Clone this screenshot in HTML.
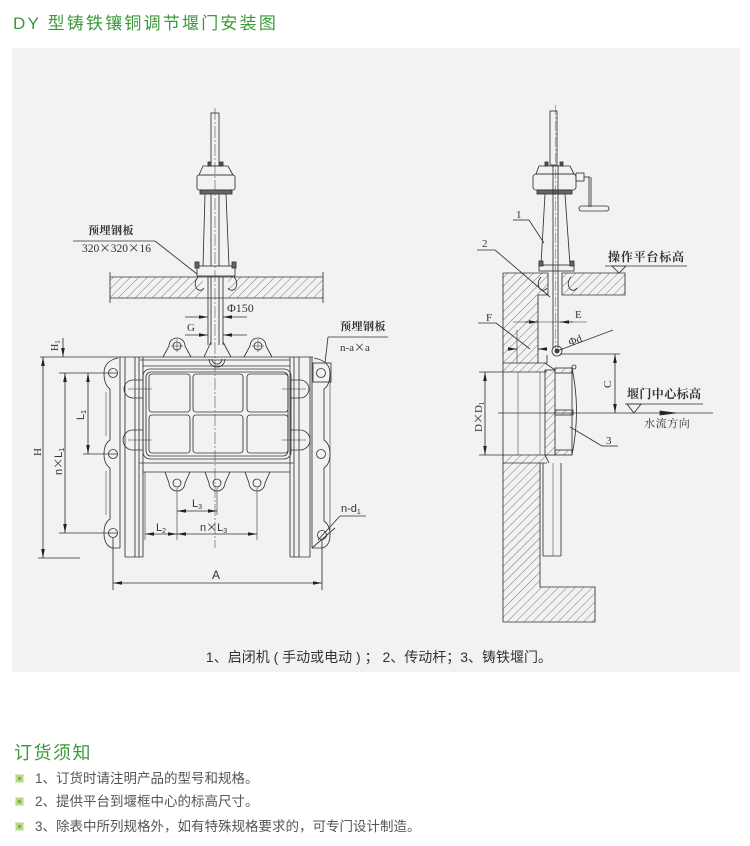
<!DOCTYPE html>
<html><head><meta charset="utf-8">
<style>
html,body{margin:0;padding:0;background:#fff;}
body{width:750px;height:846px;position:relative;overflow:hidden;}
svg{position:absolute;left:0;top:0;}
</style></head><body>
<svg width="750" height="846" viewBox="0 0 750 846" xmlns="http://www.w3.org/2000/svg">
<defs>
<pattern id="h" width="6" height="6" patternUnits="userSpaceOnUse" patternTransform="rotate(45)"><line x1="0" y1="0" x2="0" y2="6" stroke="#444" stroke-width="0.7"/></pattern>
<marker id="ar" viewBox="0 0 10 4" markerWidth="9" markerHeight="4" refX="10" refY="2" orient="auto-start-reverse" markerUnits="userSpaceOnUse"><path d="M0,0L10,2L0,4z" fill="#222"/></marker>
</defs>

<text x="13" y="29" font-family="Liberation Sans, Noto Sans CJK SC, sans-serif" font-size="17" fill="#3a9a3a" letter-spacing="2.2">DY 型铸铁镶铜调节堰门安装图</text>

<rect x="12" y="48" width="728" height="624" fill="#f2f2f2"/>

<!-- ============ LEFT DRAWING ============ -->
<g stroke="#333" stroke-width="0.85" fill="none">
  <rect x="211" y="113" width="8" height="53"/>
  <line x1="215" y1="108" x2="215" y2="548" stroke-width="0.5" stroke-dasharray="12 2 2 2"/>
  <rect x="208" y="162" width="3" height="4" fill="#555"/>
  <rect x="220" y="162" width="3" height="4" fill="#555"/>
  <path d="M199,175 L203,166 L228,166 L233,175 Z"/>
  <rect x="197" y="175" width="38" height="15" rx="2"/>
  <rect x="200" y="190" width="32" height="4" fill="#666"/>
  <line x1="205" y1="194" x2="203" y2="266"/>
  <line x1="226" y1="194" x2="229" y2="266"/>
  <line x1="211" y1="194" x2="211" y2="266"/>
  <line x1="219" y1="194" x2="219" y2="266"/>
  <rect x="197" y="266" width="38" height="10"/>
  <rect x="195" y="262" width="4" height="6" fill="#666"/>
  <rect x="232" y="262" width="4" height="6" fill="#666"/>
  <rect x="110" y="277" width="93" height="21" fill="url(#h)" stroke="none"/>
  <rect x="228" y="277" width="95" height="21" fill="url(#h)" stroke="none"/>
  <line x1="110" y1="277" x2="323" y2="277"/>
  <line x1="110" y1="298" x2="323" y2="298"/>
  <line x1="110" y1="272" x2="110" y2="303"/>
  <line x1="323" y1="272" x2="323" y2="303"/>
  <path d="M198,277 q-5,6 -1,12 q4,3 7,-1"/>
  <path d="M234,277 q5,6 1,12 q-4,3 -7,-1"/>
  <line x1="208" y1="277" x2="208" y2="345"/>
  <line x1="223" y1="277" x2="223" y2="345"/>
  <line x1="211" y1="276" x2="211" y2="345"/>
  <line x1="219" y1="276" x2="219" y2="345"/>
  <line x1="73" y1="241" x2="155" y2="241"/>
  <line x1="155" y1="241" x2="197" y2="274"/>
  <line x1="185" y1="317" x2="208" y2="317" marker-end="url(#ar)"/>
  <line x1="247" y1="317" x2="223" y2="317" marker-end="url(#ar)"/>
  <line x1="185" y1="335" x2="208" y2="335" marker-end="url(#ar)"/>
  <line x1="247" y1="335" x2="223" y2="335" marker-end="url(#ar)"/>

  <line x1="40" y1="357" x2="313" y2="357"/>
  <line x1="140" y1="360" x2="290" y2="360"/>
  <line x1="143" y1="366" x2="290" y2="366"/>
  <path d="M163,357 L169,346 A8,8 0 0 1 185,346 L191,357"/>
  <circle cx="177" cy="346" r="4"/>
  <line x1="171" y1="346" x2="183" y2="346" stroke-width="0.5"/><line x1="177" y1="339" x2="177" y2="352" stroke-width="0.5"/>
  <path d="M244,357 L250,346 A8,8 0 0 1 266,346 L272,357"/>
  <circle cx="258" cy="346" r="4"/>
  <line x1="252" y1="346" x2="264" y2="346" stroke-width="0.5"/><line x1="258" y1="339" x2="258" y2="352" stroke-width="0.5"/>
  <path d="M204,357 L211,342 M223,342 L231,357"/>
  <path d="M209,359 A8,8 0 0 0 225,359"/>
  <path d="M212,359 A5,5 0 0 0 222,359"/>

  <line x1="125" y1="357" x2="125" y2="557"/>
  <line x1="135" y1="357" x2="135" y2="557"/>
  <line x1="139" y1="357" x2="139" y2="557"/>
  <line x1="143" y1="357" x2="143" y2="557"/>
  <line x1="125" y1="557" x2="143" y2="557"/>
  <line x1="290" y1="357" x2="290" y2="557"/>
  <line x1="294" y1="357" x2="294" y2="557"/>
  <line x1="299" y1="357" x2="299" y2="557"/>
  <line x1="310" y1="357" x2="310" y2="557"/>
  <line x1="290" y1="557" x2="310" y2="557"/>

  <line x1="120" y1="357" x2="120" y2="548"/>
  <path d="M118,358 Q104,361 104,373 Q104,385 110,389 L110,440 Q104,444 104,454 Q104,464 110,468 L110,519 Q104,523 104,533 Q104,545 112,548 L120,548"/>
  <line x1="106" y1="392" x2="106" y2="436" stroke-width="0.5"/>
  <line x1="106" y1="471" x2="106" y2="515" stroke-width="0.5"/>
  <circle cx="113" cy="373" r="4.5"/><circle cx="113" cy="454" r="4.5"/><circle cx="113" cy="533" r="4.5"/>
  <line x1="113" y1="538" x2="113" y2="590"/>
  <line x1="312" y1="357" x2="312" y2="548"/>
  <path d="M314,358 Q330,361 330,373 Q330,385 324,389 L324,440 Q330,444 330,454 Q330,464 324,468 L324,521 Q330,525 330,535 Q330,546 322,548 L312,548"/>
  <line x1="330" y1="373" x2="330" y2="530" stroke-width="0.6"/>
  <rect x="313" y="363" width="18" height="19"/>
  <circle cx="321" cy="373" r="4.5"/><circle cx="321" cy="454" r="4.5"/><circle cx="322" cy="535" r="4.5"/>
  <line x1="322" y1="540" x2="322" y2="590"/>
  <line x1="312" y1="548" x2="335" y2="528"/>

  <rect x="143" y="369" width="148" height="90" rx="7"/>
  <rect x="146" y="372" width="142" height="84" rx="5"/>
  <rect x="149" y="374" width="41" height="38" rx="3"/>
  <rect x="193" y="374" width="50" height="38" rx="3"/>
  <rect x="247" y="374" width="41" height="38" rx="3"/>
  <rect x="149" y="415" width="41" height="38" rx="3"/>
  <rect x="193" y="415" width="50" height="38" rx="3"/>
  <rect x="247" y="415" width="41" height="38" rx="3"/>
  <path d="M143,380 L133,380 A9,9 0 0 0 133,398 L143,398"/>
  <path d="M143,430 L133,430 A10,10 0 0 0 133,450 L143,450"/>
  <path d="M290,380 L300,380 A9,9 0 0 1 300,398 L290,398"/>
  <path d="M290,430 L300,430 A10,10 0 0 1 300,450 L290,450"/>
  <line x1="128" y1="389" x2="152" y2="389" stroke-width="0.6"/>
  <line x1="128" y1="440" x2="152" y2="440" stroke-width="0.6"/>
  <line x1="282" y1="389" x2="306" y2="389" stroke-width="0.6"/>
  <line x1="282" y1="440" x2="306" y2="440" stroke-width="0.6"/>
  <line x1="139" y1="463" x2="294" y2="463"/>
  <line x1="143" y1="472" x2="290" y2="472"/>
  <path d="M165,472 L169,483 A8,8 0 0 0 185,483 L190,472"/>
  <circle cx="177" cy="483" r="4"/>
  <path d="M205,472 L209,483 A8,8 0 0 0 225,483 L230,472"/>
  <circle cx="217" cy="483" r="4"/>
  <path d="M245,472 L249,483 A8,8 0 0 0 265,483 L270,472"/>
  <circle cx="257" cy="483" r="4"/>

  <line x1="43" y1="357" x2="43" y2="558" marker-start="url(#ar)" marker-end="url(#ar)"/>
  <line x1="38" y1="558" x2="80" y2="558"/>
  <line x1="63" y1="338" x2="63" y2="357" marker-end="url(#ar)"/>
  <line x1="65" y1="373" x2="65" y2="533" marker-start="url(#ar)" marker-end="url(#ar)"/>
  <line x1="59" y1="373" x2="118" y2="373"/>
  <line x1="59" y1="533" x2="118" y2="533"/>
  <line x1="88" y1="373" x2="88" y2="454" marker-start="url(#ar)" marker-end="url(#ar)"/>
  <line x1="83" y1="454" x2="118" y2="454"/>
  <line x1="177" y1="488" x2="177" y2="540" stroke-width="0.6"/>
  <line x1="217" y1="488" x2="217" y2="515" stroke-width="0.6"/>
  <line x1="257" y1="488" x2="257" y2="540" stroke-width="0.6"/>
  <line x1="145" y1="472" x2="145" y2="540" stroke-width="0.6"/>
  <line x1="177" y1="511" x2="217" y2="511" marker-start="url(#ar)" marker-end="url(#ar)"/>
  <line x1="145" y1="534" x2="177" y2="534" marker-start="url(#ar)" marker-end="url(#ar)"/>
  <line x1="177" y1="534" x2="257" y2="534" marker-start="url(#ar)" marker-end="url(#ar)"/>
  <line x1="113" y1="583" x2="322" y2="583" marker-start="url(#ar)" marker-end="url(#ar)"/>
  <line x1="328" y1="337" x2="388" y2="337"/>
  <line x1="328" y1="337" x2="325" y2="363"/>
  <line x1="340" y1="516" x2="366" y2="516"/>
  <line x1="340" y1="516" x2="318" y2="540"/>
</g>

<g font-family="Liberation Serif, Noto Serif CJK SC, serif" fill="#333">
  <text x="88" y="234" font-size="11" font-weight="bold" letter-spacing="0.5">预埋钢板</text>
  <text x="82" y="252" font-size="11.5">320<tspan font-family="Noto Sans CJK SC, sans-serif">×</tspan>320<tspan font-family="Noto Sans CJK SC, sans-serif">×</tspan>16</text>
  <text x="227" y="312" font-size="12">Φ150</text>
  <text x="187" y="331" font-size="11">G</text>
  <text x="340" y="330" font-size="11" font-weight="bold" letter-spacing="0.5">预埋钢板</text>
  <text x="340" y="351" font-size="11">n-a<tspan font-family="Noto Sans CJK SC, sans-serif">×</tspan>a</text>
  <text x="341" y="512" font-family="Liberation Sans, sans-serif" font-size="11">n-d<tspan font-size="7" dy="2">1</tspan></text>
  <text x="0" y="0" font-size="11" transform="translate(41,456) rotate(-90)">H</text>
  <text x="0" y="0" font-size="10" transform="translate(58,351) rotate(-90)">H<tspan font-size="7" dy="2">1</tspan></text>
  <text x="0" y="0" font-family="Liberation Sans, sans-serif" font-size="11" transform="translate(62,475) rotate(-90)">n<tspan font-family="Noto Sans CJK SC, sans-serif">×</tspan>L<tspan font-size="7" dy="2">1</tspan></text>
  <text x="0" y="0" font-family="Liberation Sans, sans-serif" font-size="11" transform="translate(84,420) rotate(-90)">L<tspan font-size="7" dy="2">1</tspan></text>
  <text x="192" y="507" font-family="Liberation Sans, sans-serif" font-size="11">L<tspan font-size="7" dy="2">3</tspan></text>
  <text x="156" y="531" font-family="Liberation Sans, sans-serif" font-size="11">L<tspan font-size="7" dy="2">2</tspan></text>
  <text x="200" y="531" font-family="Liberation Sans, sans-serif" font-size="11">n<tspan font-family="Noto Sans CJK SC, sans-serif">×</tspan>L<tspan font-size="7" dy="2">3</tspan></text>
  <text x="212" y="579" font-family="Liberation Sans, sans-serif" font-size="12">A</text>
</g>

<!-- ============ RIGHT DRAWING ============ -->
<g stroke="#333" stroke-width="0.85" fill="none">
  <rect x="550" y="111" width="7" height="54"/>
  <rect x="545" y="162" width="3" height="4" fill="#555"/>
  <rect x="560" y="162" width="3" height="4" fill="#555"/>
  <path d="M536,174 L539,166 L570,166 L574,174 Z"/>
  <rect x="533" y="174" width="43" height="16" rx="3"/>
  <rect x="537" y="190" width="35" height="4" fill="#666"/>
  <rect x="576" y="173" width="8" height="8"/>
  <line x1="584" y1="177" x2="590" y2="177"/>
  <line x1="589" y1="177" x2="589" y2="207"/>
  <line x1="591" y1="177" x2="591" y2="207"/>
  <rect x="579" y="206" width="30" height="5" rx="2.5"/>
  <line x1="545" y1="194" x2="541" y2="265"/>
  <line x1="565" y1="194" x2="570" y2="265"/>
  <line x1="553" y1="165" x2="553" y2="348"/>
  <line x1="558" y1="165" x2="558" y2="348"/>
  <line x1="555.5" y1="105" x2="555.5" y2="350" stroke-width="0.4" stroke-dasharray="10 2 2 2"/>
  <rect x="539" y="265" width="35" height="6"/>
  <rect x="539" y="261" width="4" height="5" fill="#666"/>
  <rect x="570" y="261" width="4" height="5" fill="#666"/>

  <rect x="503" y="273" width="45" height="22" fill="url(#h)" stroke="none"/>
  <rect x="562" y="273" width="63" height="22" fill="url(#h)" stroke="none"/>
  <rect x="503" y="295" width="35" height="68" fill="url(#h)" stroke="none"/>
  <rect x="503" y="363" width="44" height="9" fill="url(#h)" stroke="none"/>
  <rect x="503" y="455" width="44" height="8" fill="url(#h)" stroke="none"/>
  <rect x="503" y="463" width="37" height="124" fill="url(#h)" stroke="none"/>
  <rect x="503" y="587" width="92" height="35" fill="url(#h)" stroke="none"/>
  <path d="M503,273 L548,273 L548,295 L538,295 L538,363"/>
  <path d="M562,273 L625,273 L625,295 L562,295 Z"/>
  <line x1="503" y1="273" x2="503" y2="622"/>
  <path d="M503,622 L595,622 L595,587 L540,587 L540,463"/>
  <line x1="503" y1="363" x2="547" y2="363"/>
  <line x1="479" y1="372" x2="547" y2="372"/>
  <line x1="479" y1="455" x2="547" y2="455"/>
  <line x1="503" y1="463" x2="547" y2="463"/>
  <line x1="518" y1="372" x2="518" y2="455" stroke-width="0.5"/>
  <line x1="540" y1="372" x2="540" y2="455" stroke-width="0.5"/>
  <line x1="517" y1="330" x2="517" y2="363" stroke-width="0.6"/>
  <path d="M541,277 q-5,6 -1,12 q4,3 7,-1"/>
  <path d="M571,277 q-5,6 -1,12 q4,3 7,-1"/>
  <line x1="543" y1="463" x2="543" y2="556"/>
  <line x1="561" y1="463" x2="561" y2="556"/>
  <line x1="553" y1="463" x2="553" y2="556" stroke-width="0.5"/>
  <line x1="543" y1="556" x2="561" y2="556"/>
  <line x1="547" y1="355" x2="547" y2="363"/>

  <rect x="545" y="370" width="10" height="85" fill="url(#h)"/>
  <path d="M545,363 L555,370"/>
  <rect x="555" y="368" width="17" height="5" fill="url(#h)"/>
  <rect x="555" y="410" width="18" height="5" fill="url(#h)"/>
  <rect x="555" y="450" width="17" height="5" fill="url(#h)"/>
  <line x1="572" y1="368" x2="572" y2="455"/>
  <path d="M572,368 Q581,411 572,455"/>
  <circle cx="574" cy="367" r="2"/>
  <line x1="545" y1="455" x2="549" y2="463"/>

  <circle cx="557" cy="351" r="5"/>
  <circle cx="557" cy="351" r="2" fill="#444"/>

  <line x1="513" y1="322" x2="587" y2="322" stroke-width="0.5"/>
  <line x1="525" y1="322" x2="538" y2="322" marker-end="url(#ar)"/>
  <line x1="573" y1="322" x2="560" y2="322" marker-end="url(#ar)"/>
  <line x1="478" y1="323" x2="496" y2="323"/>
  <line x1="496" y1="323" x2="530" y2="349"/>
  <line x1="509" y1="349" x2="517" y2="349" marker-end="url(#ar)"/>
  <line x1="546" y1="349" x2="538" y2="349" marker-end="url(#ar)"/>
  <line x1="557" y1="351" x2="613" y2="330"/>
  <line x1="513" y1="220" x2="529" y2="220"/>
  <line x1="529" y1="220" x2="544" y2="243"/>
  <line x1="477" y1="250" x2="495" y2="250"/>
  <line x1="495" y1="250" x2="550" y2="297"/>
  <line x1="605" y1="266" x2="687" y2="266"/>
  <path d="M612,266 L626,266 L619,273 Z"/>
  <line x1="560" y1="354" x2="620" y2="354"/>
  <line x1="615" y1="354" x2="615" y2="413" marker-start="url(#ar)" marker-end="url(#ar)"/>
  <line x1="485" y1="372" x2="485" y2="455" marker-start="url(#ar)" marker-end="url(#ar)"/>
  <line x1="498" y1="413" x2="713" y2="413"/>
  <path d="M660,411 L676,413 L660,415 Z" fill="#222"/>
  <line x1="625" y1="404" x2="703" y2="404"/>
  <path d="M627,404 L641,404 L634,413 Z"/>
  <line x1="570" y1="427" x2="602" y2="446"/>
  <line x1="602" y1="446" x2="618" y2="446"/>
</g>

<g font-family="Liberation Serif, Noto Serif CJK SC, serif" fill="#333">
  <text x="516" y="218" font-size="11">1</text>
  <text x="482" y="247" font-size="11">2</text>
  <text x="486" y="321" font-size="11">F</text>
  <text x="575" y="318" font-size="11">E</text>
  <text x="0" y="0" font-size="11" transform="translate(570,346) rotate(-20)">Φd</text>
  <text x="608" y="261" font-size="12" font-weight="bold" letter-spacing="0.8">操作平台标高</text>
  <text x="627" y="398" font-size="12" font-weight="bold" letter-spacing="0.4">堰门中心标高</text>
  <text x="644" y="427" font-size="11" letter-spacing="0.6">水流方向</text>
  <text x="606" y="444" font-size="11">3</text>
  <text x="0" y="0" font-size="11" transform="translate(611,388) rotate(-90)">C</text>
  <text x="0" y="0" font-size="11" transform="translate(482,432) rotate(-90)">D<tspan font-family="Noto Sans CJK SC, sans-serif">×</tspan>D<tspan font-size="7" dy="2">1</tspan></text>
</g>

<text x="379" y="662" text-anchor="middle" font-family="Liberation Sans, Noto Sans CJK SC, sans-serif" font-size="14" fill="#333">1、启闭机 ( 手动或电动 ) ； 2、传动杆；3、铸铁堰门。</text>

<text x="14" y="759" font-family="Liberation Sans, Noto Sans CJK SC, sans-serif" font-size="18" fill="#3a9a3a" letter-spacing="1.5">订货须知</text>
<g fill="#b5d98a" stroke="#d9ecc4" stroke-width="1">
  <rect x="15.5" y="774.5" width="8" height="8"/>
  <rect x="15.5" y="797.5" width="8" height="8"/>
  <rect x="15.5" y="822.5" width="8" height="8"/>
</g>
<g fill="#7ab04a"><rect x="18" y="777" width="3" height="3"/><rect x="18" y="800" width="3" height="3"/><rect x="18" y="825" width="3" height="3"/></g>
<g font-family="Liberation Sans, Noto Sans CJK SC, sans-serif" font-size="13.5" fill="#555">
  <text x="35" y="783">1、订货时请注明产品的型号和规格。</text>
  <text x="35" y="806">2、提供平台到堰框中心的标高尺寸。</text>
  <text x="35" y="831">3、除表中所列规格外，如有特殊规格要求的，可专门设计制造。</text>
</g>
</svg>
</body></html>
